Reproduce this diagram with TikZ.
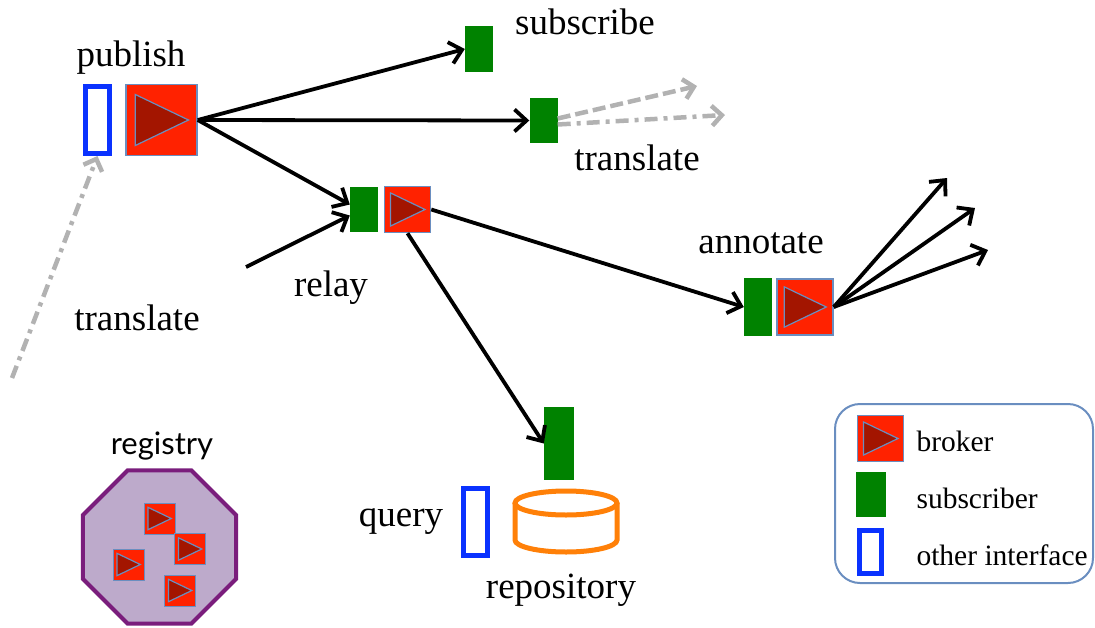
\documentclass[tikz,border=0pt]{standalone}
\usepackage{fontspec}
\setmainfont{Liberation Serif}
\newfontfamily\regfont{Lato}
\usetikzlibrary{shapes,arrows.meta}
\definecolor{brokerred}{HTML}{FF2200}
\definecolor{brokerdark}{HTML}{A31500}
\definecolor{edgeblue}{HTML}{6A8EC0}
\definecolor{subgreen}{HTML}{008200}
\definecolor{ifblue}{HTML}{0A32FF}
\definecolor{repoorange}{HTML}{FF8008}
\definecolor{regfill}{HTML}{BDAACB}
\definecolor{regedge}{HTML}{7A1D7C}
\tikzset{
broker/.style={
	  draw=edgeblue, line width=1.5pt, fill=brokerred, minimum size=#1, inner sep=0pt,
	    path picture={\draw[edgeblue, fill=brokerdark, line width=1.2pt]
	    ([shift={(-0.37*#1pt,0.36*#1pt)}]path picture bounding box.center) --
	    ([shift={(-0.37*#1pt,-0.36*#1pt)}]path picture bounding box.center) --
	    ([shift={(0.38*#1pt,0pt)}]path picture bounding box.center) -- cycle;}},
subscriber/.style={fill=subgreen, minimum width=28, minimum height=#1, inner sep=0pt},
subscriber/.default=45,
iface/.style={draw=ifblue, line width=5pt, fill=white, minimum width=24, minimum height=#1, inner sep=0pt},
flow/.style={line width=3.8pt, -{Straight Barb[length=12pt,width=22pt,line width=3.8pt]}},
ghost/.style={line width=4.5pt, gray!60, -{Straight Barb[length=10pt,width=20pt,line width=4.5pt]}},
word/.style={font=\fontsize{37}{42}\selectfont},
key/.style={font=\fontsize{29.5}{34}\selectfont, anchor=west}
}

\begin{document}
\begin{tikzpicture}[x=1pt, y=-1pt]
	\useasboundingbox (0,0) rectangle (1095,627);
	% publisher
	\node[iface=67] (pubif) at (97.5,120) {};
	\node[broker=71] (pub) at (161.5,120) {};
	\node[word] (publbl) at (131,58) {publish};
	% subscribers on the right
	\node[subscriber=46] (sub) at (479,49) {};
	\node[word] (sublbl) at (585,22) {subscribe};
	\node[subscriber] (trans) at (543.5,120.5) {};
	\node[word] (translbl) at (637,158) {translate};
	% relay
	\node[subscriber] (relaysub) at (364,209.5) {};
	\node[broker=46] (relay) at (407.5,209.5) {};
	\node[word] (relaylbl) at (331,288) {relay};
	\node[word] (leftlbl) at (137,318) {translate};
	% annotate
	\node[subscriber=58] (annsub) at (758,307) {};
	\node[broker=56] (ann) at (805,307) {};
	\node[word] (annlbl) at (761,243) {annotate};
	% repository
	\node[subscriber=73, minimum width=30] (reposub) at (559,443.5) {};
	\node[iface=67] (queryif) at (475,522) {};
	\node[word] (querylbl) at (401,522) {query};
	\draw[repoorange, line width=5pt, fill=white] (515,503) -- (515,540)
		arc[start angle=180, end angle=0, x radius=51, y radius=12] -- (617,503);
	\draw[repoorange, line width=5pt] (566,503) ellipse [x radius=51, y radius=12];
	\node[word] (repolbl) at (561,590) {repository};
	% registry
	\node[regular polygon, regular polygon sides=8, draw=regedge, fill=regfill,
		line width=4pt, minimum size=166, inner sep=0pt] (reg) at (159.5,547) {};
	\node[broker=31, line width=1pt] (r1) at (159.5,518.5) {};
	\node[broker=31, line width=1pt] (r2) at (128.5,564.5) {};
	\node[broker=31, line width=1pt] (r3) at (190,549) {};
	\node[broker=31, line width=1pt] (r4) at (180,590.5) {};
	\node[font=\regfont\fontsize{31}{36}\selectfont] (reglbl) at (162,446) {registry};
	% free ends
	\coordinate (inlink) at (246,267);
	\coordinate (far) at (12,378);
	\coordinate (out1) at (947,178);
	\coordinate (out2) at (975,208);
	\coordinate (out3) at (988,250);
	\coordinate (fw1) at (697,86);
	\coordinate (fw2) at (725,115);
	% connectors
	\draw[flow] (pub.east) -- (sub.west);
	\draw[flow] (pub.east) -- (trans.west);
	\draw[flow] (pub.east) -- ([yshift=5pt]relaysub.west);
	\draw[flow] (inlink) -- ([yshift=-6pt]relaysub.west);
	\draw[flow] (relay.east) -- (annsub.west);
	\draw[flow] (relay.south) -- (reposub.west);
	\draw[flow] (ann.east) -- (out1);
	\draw[flow] (ann.east) -- (out2);
	\draw[flow] (ann.east) -- (out3);
	\draw[ghost, dash pattern=on 13pt off 5pt] ([yshift=2pt]trans.east) -- (fw1);
	\draw[ghost, dash pattern=on 13pt off 6pt on 4pt off 6pt] ([yshift=-4pt]trans.east) -- (fw2);
	\draw[ghost, dash pattern=on 13pt off 6pt on 4pt off 6pt] (far) -- (pubif.south);
	% legend
	\draw[edgeblue, line width=2pt, rounded corners=25pt] (835,404) rectangle (1093,583);
	\node[broker=46] (keybroker) at (880.5,438.5) {};
	\node[subscriber, minimum width=30] (keysub) at (871,494.5) {};
	\node[iface=43, minimum width=22] (keyif) at (870.5,552) {};
	\node[key] (keybrokerlbl) at (913,441) {broker};
	\node[key] (keysublbl) at (913,498) {subscriber};
	\node[key] (keyiflbl) at (913,555) {other interface};
\end{tikzpicture}
\end{document}
